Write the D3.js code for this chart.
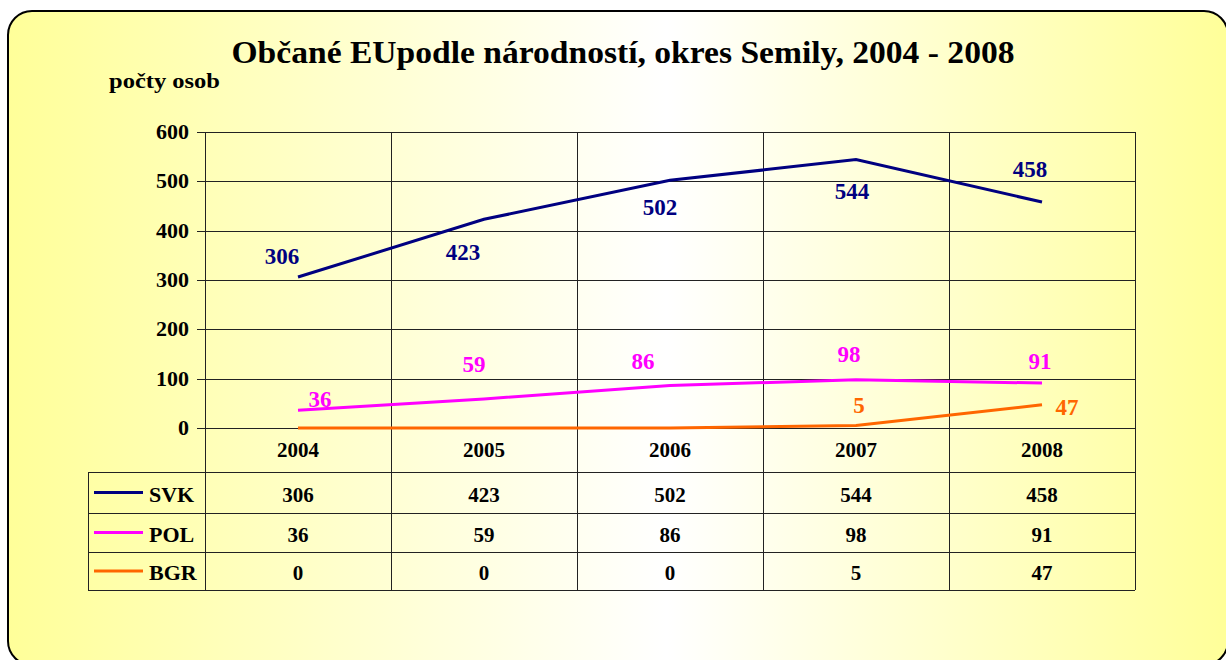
<!DOCTYPE html>
<html>
<head>
<meta charset="utf-8">
<script src="https://cdnjs.cloudflare.com/ajax/libs/d3/7.8.5/d3.min.js"></script>
<style>
body { margin: 0; background: #fff; }
text { font-family: "Liberation Serif", "Times New Roman", serif; font-weight: bold; }
</style>
</head>
<body>
<svg></svg>
<script>
// data
var years = ['2004', '2005', '2006', '2007', '2008'];
var seriesNames = ['SVK', 'POL', 'BGR'];
var svkValues = [306, 423, 502, 544, 458];
var polValues = [36, 59, 86, 98, 91];
var bgrValues = [0, 0, 0, 5, 47];
var yTicks = [0, 100, 200, 300, 400, 500, 600];

var colors = ['#000080', '#FF00FF', '#FF6600'];
var allValues = [svkValues, polValues, bgrValues];

// label offsets (dx, dy from point) - how excel placed them
var labelOffsets = [
    [[-16, -13], [-21, 41], [-10, 35], [-4, 39], [-12, -25]],
    [[22, -3], [-10, -27], [-27, -17], [-7, -18], [-2, -14]],
    [[0, 0], [0, 0], [0, 0], [3, -13], [25, 10]]
];

var svgWidth = 1226, svgHeight = 660;
var plotLeft = 205, plotRight = 1135, plotTop = 132, plotBottom = 428;
var tableLeft = 88;
var rowLines = [428, 472, 513, 552, 590];

var svg = d3.select('svg')
    .attr('width', svgWidth)
    .attr('height', svgHeight);

var grad = svg.append('defs').append('linearGradient')
    .attr('id', 'bg')
    .attr('x1', '0%').attr('x2', '100%')
    .attr('y1', '0%').attr('y2', '0%');
grad.append('stop').attr('offset', '0%').attr('stop-color', '#FFFF99');
grad.append('stop').attr('offset', '54%').attr('stop-color', '#FFFFFF');
grad.append('stop').attr('offset', '100%').attr('stop-color', '#FFFF99');

svg.append('rect')
    .attr('x', 8).attr('y', 11)
    .attr('width', 1220).attr('height', 654)
    .attr('rx', 24)
    .attr('fill', 'url(#bg)')
    .attr('stroke', '#000')
    .attr('stroke-width', 2);

var x = d3.scaleBand()
    .domain(years)
    .range([plotLeft, plotRight]);

var y = d3.scaleLinear()
    .domain([0, 600])
    .range([plotBottom, plotTop]);

// horizontal grid
svg.selectAll('line.hgrid')
    .data(yTicks)
    .enter()
    .append('line')
    .attr('x1', plotLeft - 8)
    .attr('x2', plotRight)
    .attr('y1', function(d) { return Math.round(y(d)) + 0.5; })
    .attr('y2', function(d) { return Math.round(y(d)) + 0.5; })
    .attr('stroke', '#222')
    .attr('stroke-width', 1);

// y tick labels
svg.selectAll('text.ytick')
    .data(yTicks)
    .enter()
    .append('text')
    .attr('x', 189)
    .attr('y', function(d) { return y(d) + 7; })
    .attr('text-anchor', 'end')
    .attr('font-size', 22)
    .text(function(d) { return d; });

// vertical grid through plot and table
var colEdges = years.map(function(d) { return x(d); }).concat([plotRight]);
svg.selectAll('line.vgrid')
    .data(colEdges)
    .enter()
    .append('line')
    .attr('x1', function(d) { return Math.round(d) + 0.5; })
    .attr('x2', function(d) { return Math.round(d) + 0.5; })
    .attr('y1', plotTop)
    .attr('y2', rowLines[4])
    .attr('stroke', '#222')
    .attr('stroke-width', 1);

// table lines
svg.selectAll('line.row')
    .data(rowLines.slice(1))
    .enter()
    .append('line')
    .attr('x1', tableLeft)
    .attr('x2', plotRight)
    .attr('y1', function(d) { return d + 0.5; })
    .attr('y2', function(d) { return d + 0.5; })
    .attr('stroke', '#222');

svg.append('line')
    .attr('x1', tableLeft + 0.5).attr('x2', tableLeft + 0.5)
    .attr('y1', rowLines[1]).attr('y2', rowLines[4])
    .attr('stroke', '#222');

// year header
svg.selectAll('text.year')
    .data(years)
    .enter()
    .append('text')
    .attr('x', function(d) { return x(d) + x.bandwidth() / 2; })
    .attr('y', 457)
    .attr('text-anchor', 'middle')
    .attr('font-size', 21)
    .text(function(d) { return d; });

// lines
var line = d3.line()
    .x(function(d, i) { return x(years[i]) + x.bandwidth() / 2; })
    .y(function(d) { return y(d); });

svg.selectAll('path.series')
    .data(allValues)
    .enter()
    .append('path')
    .attr('d', function(d) { return line(d); })
    .attr('fill', 'none')
    .attr('stroke', function(d, i) { return colors[i]; })
    .attr('stroke-width', 3);

// data labels (zeros are not labelled)
allValues.forEach(function(vals, s) {
    var labs = vals.map(function(v, i) { return { v: v, i: i }; })
        .filter(function(d) { return d.v !== 0; });
    svg.selectAll('text.lab' + s)
        .data(labs)
        .enter()
        .append('text')
        .attr('x', function(d) { return x(years[d.i]) + x.bandwidth() / 2 + labelOffsets[s][d.i][0]; })
        .attr('y', function(d) { return y(d.v) + labelOffsets[s][d.i][1]; })
        .attr('text-anchor', 'middle')
        .attr('font-size', 23)
        .attr('fill', colors[s])
        .text(function(d) { return d.v; });
});

// table rows
var rowBase = [502, 542, 580];
seriesNames.forEach(function(name, s) {
    var mid = (rowLines[s + 1] + rowLines[s + 2]) / 2;
    svg.append('line')
        .attr('x1', 94).attr('x2', 143)
        .attr('y1', mid).attr('y2', mid)
        .attr('stroke', colors[s])
        .attr('stroke-width', 3);
    svg.append('text')
        .attr('x', 149)
        .attr('y', rowBase[s])
        .attr('font-size', 22)
        .text(name);
    svg.selectAll('text.cell' + s)
        .data(allValues[s])
        .enter()
        .append('text')
        .attr('x', function(d, i) { return x(years[i]) + x.bandwidth() / 2; })
        .attr('y', rowBase[s])
        .attr('text-anchor', 'middle')
        .attr('font-size', 21)
        .text(function(d) { return d; });
});

// titles
svg.append('text')
    .attr('x', 623)
    .attr('y', 63)
    .attr('text-anchor', 'middle')
    .attr('font-size', 32)
    .attr('textLength', 783)
    .attr('lengthAdjust', 'spacingAndGlyphs')
    .text('Občané EUpodle národností, okres Semily, 2004 - 2008');

svg.append('text')
    .attr('x', 109)
    .attr('y', 88)
    .attr('font-size', 21)
    .attr('textLength', 111)
    .attr('lengthAdjust', 'spacingAndGlyphs')
    .text('počty osob');
</script>
</body>
</html>
